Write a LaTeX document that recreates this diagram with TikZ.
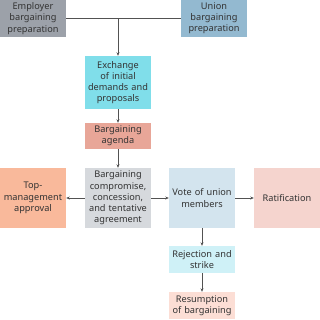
\documentclass[tikz,border=0pt]{standalone}
\usepackage{fontspec}
\setmainfont{Noto Sans}
\usetikzlibrary{arrows.meta}
\definecolor{empgray}{HTML}{9CA1A9}
\definecolor{unionblue}{HTML}{93B9D0}
\definecolor{exchcyan}{HTML}{80DEEA}
\definecolor{agendared}{HTML}{E8A698}
\definecolor{toporange}{HTML}{F9B99B}
\definecolor{compgray}{HTML}{D6D9DD}
\definecolor{voteblue}{HTML}{D3E4EE}
\definecolor{ratpink}{HTML}{F5D4CE}
\definecolor{rejcyan}{HTML}{CFF1F7}
\definecolor{respink}{HTML}{FCDED5}
\definecolor{textgray}{HTML}{333333}
\hyphenpenalty=10000
\exhyphenpenalty=10000
\tikzset{
  stagebox/.style={inner sep=0pt, minimum width=66pt, text width=66pt, align=center,
    text=textgray, font=\fontsize{9.2}{11.2}\selectfont},
  flow/.style={draw=textgray!85, line width=0.6pt, -{Stealth[length=3.5pt,width=3pt]}}
}
\begin{document}
\begin{tikzpicture}[x=1pt,y=-1pt]
  \useasboundingbox (0,0) rectangle (320,319);
  \node[stagebox, fill=empgray, minimum height=37pt] (emp) at (33,18.5) {Employer bargaining preparation};
  \node[stagebox, fill=unionblue, minimum height=37pt] (union) at (214,18.5) {Union bargaining preparation};
  \node[stagebox, fill=exchcyan, minimum height=53pt] (exch) at (118,82.5) {Exchange\\ of initial\\ demands and\\ proposals};
  \node[stagebox, fill=agendared, minimum height=26pt] (agenda) at (118,136) {Bargaining agenda};
  \node[stagebox, fill=toporange, minimum height=60pt] (top) at (33,198) {Top-\\management approval};
  \node[stagebox, fill=compgray, minimum height=60pt] (comp) at (118,198) {Bargaining compromise, concession, and tentative agreement};
  \node[stagebox, fill=voteblue, minimum height=60pt] (vote) at (202,198) {Vote of union members};
  \node[stagebox, fill=ratpink, minimum height=60pt] (rat) at (287,198) {Ratification};
  \node[stagebox, fill=rejcyan, minimum height=27pt] (rej) at (202,259.5) {Rejection and\\ strike};
  \node[stagebox, fill=respink, minimum height=27pt] (res) at (202,305.5) {Resumption of bargaining};
  \coordinate (join) at (exch.north |- emp.east);
  \draw[draw=textgray!85, line width=0.6pt] (emp.east) -- (union.west);
  \draw[flow] (join) -- (exch.north);
  \draw[flow] (exch) -- (agenda);
  \draw[flow] (agenda) -- (comp);
  \draw[flow] (comp) -- (top);
  \draw[flow] (comp) -- (vote);
  \draw[flow] (vote) -- (rat);
  \draw[flow] (vote) -- (rej);
  \draw[flow] (rej) -- (res);
\end{tikzpicture}
\end{document}
